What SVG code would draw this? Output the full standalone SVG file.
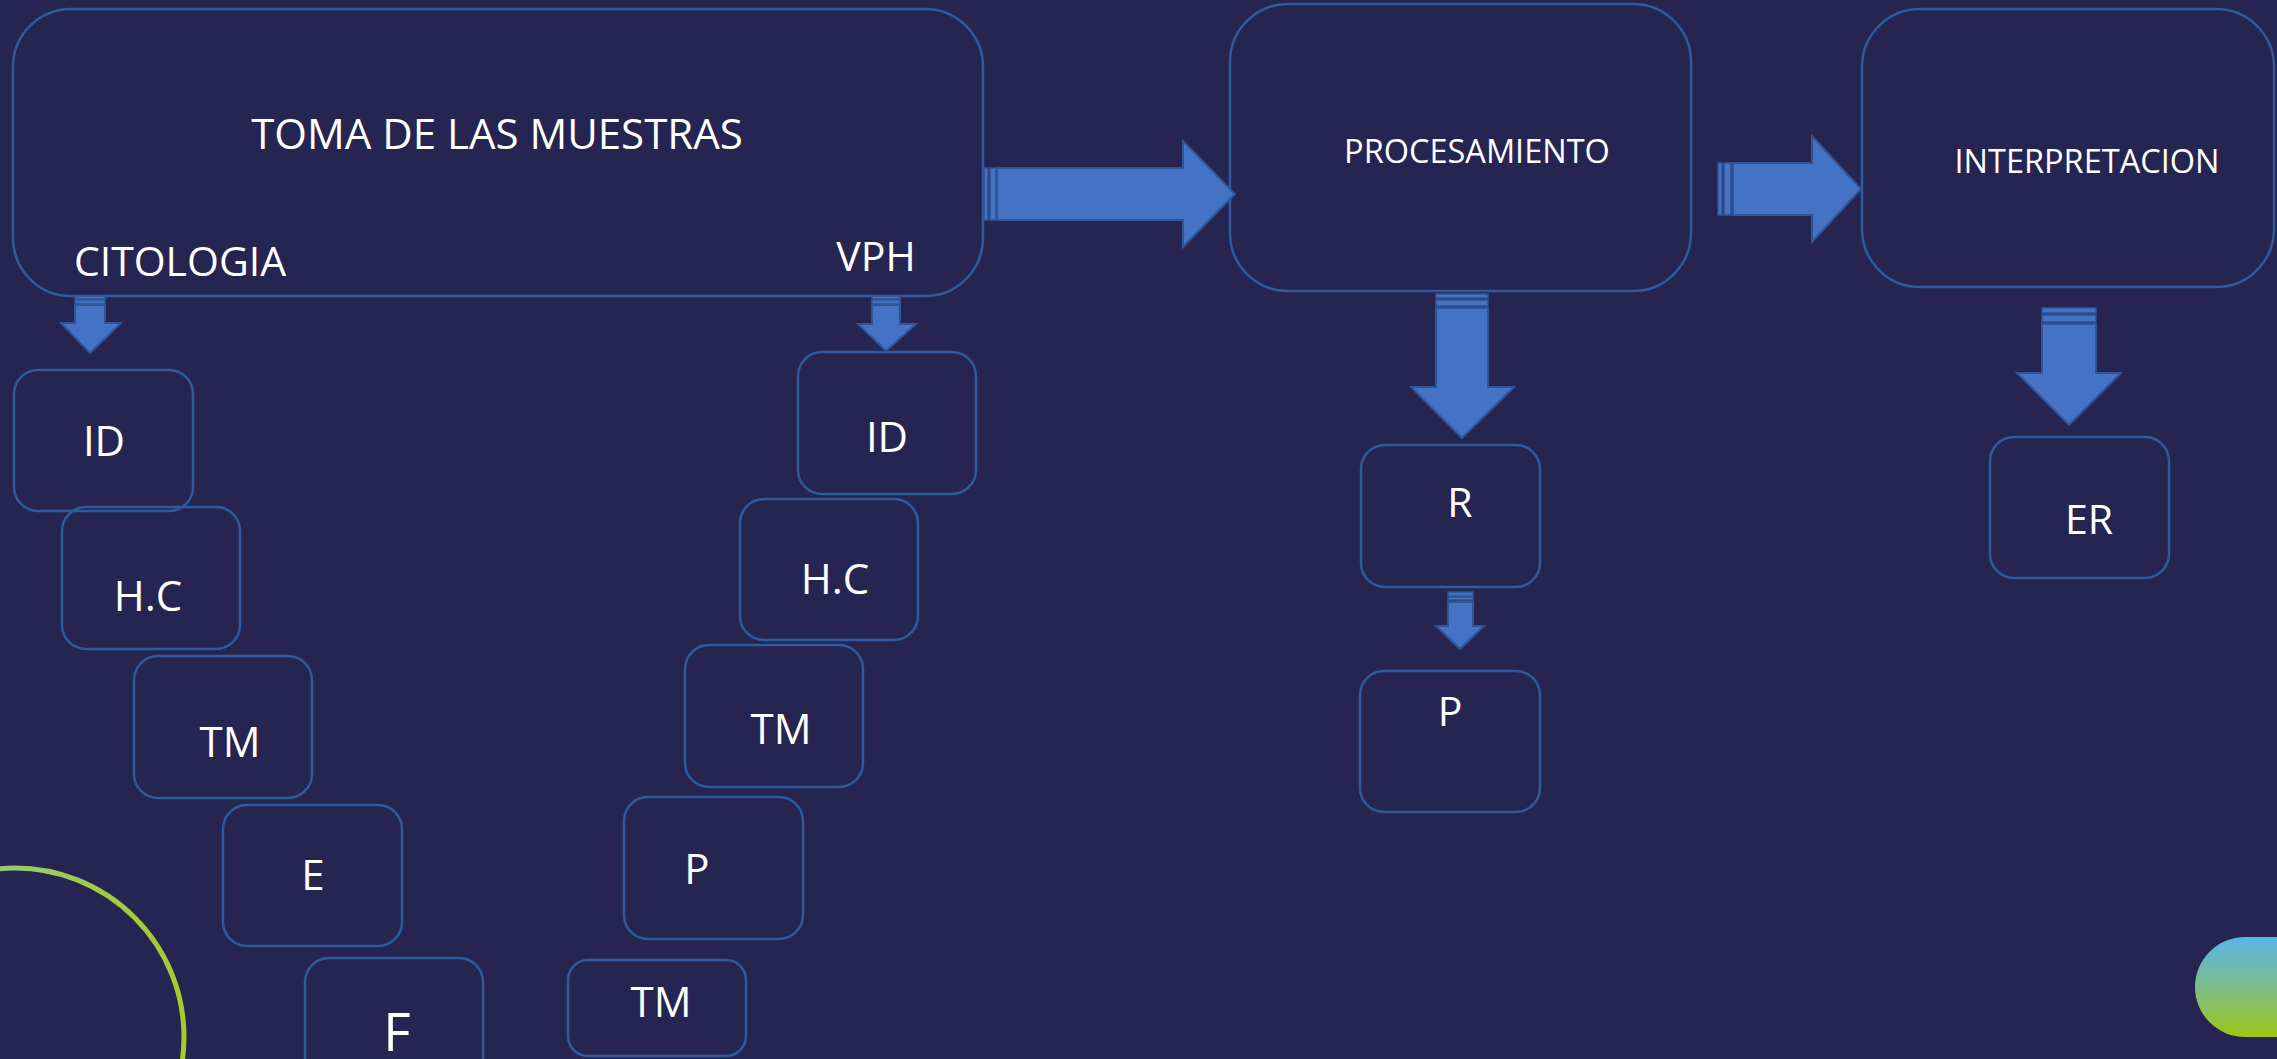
<svg xmlns="http://www.w3.org/2000/svg" width="2277" height="1059" viewBox="0 0 2277 1059">
<defs>
<style>
.box{fill:none;stroke:#2F5A9C;stroke-width:2.5}
.t{fill:#FFFFFF;font-family:"Open Sans","Liberation Sans",sans-serif;text-anchor:middle}
.arr{fill:#4472C4;stroke:#2F5597;stroke-width:2}
.bar{fill:#4472C4;stroke:#2F5597;stroke-width:1.5}
</style>
<linearGradient id="ring" x1="0" y1="0" x2="1" y2="1">
<stop offset="0" stop-color="#8FC6B0"/>
<stop offset="0.45" stop-color="#A3CB3A"/>
<stop offset="1" stop-color="#A8CC1E"/>
</linearGradient>
<linearGradient id="pill" x1="0" y1="0" x2="0" y2="1">
<stop offset="0" stop-color="#5AB6E6"/>
<stop offset="0.5" stop-color="#7EBB8A"/>
<stop offset="1" stop-color="#9EC614"/>
</linearGradient>
</defs>
<rect x="0" y="0" width="2277" height="1059" fill="#262451"/>

<circle cx="15" cy="1037" r="169" fill="none" stroke="url(#ring)" stroke-width="5"/>
<rect x="2195" y="937" width="130" height="100" rx="50" fill="url(#pill)"/>

<g id="toma">
<rect class="box" x="13" y="9" width="970" height="287" rx="58"/>
<text class="t" x="497" y="149" font-size="42">TOMA DE LAS MUESTRAS</text>
<text class="t" x="180" y="276" font-size="41">CITOLOGIA</text>
<text class="t" x="876" y="271" font-size="41">VPH</text>
</g>
<g id="procesamiento">
<rect class="box" x="1230" y="4" width="461" height="287" rx="58"/>
<text class="t" x="1477" y="163" font-size="32.5">PROCESAMIENTO</text>
</g>
<g id="interpretacion">
<rect class="box" x="1862" y="9" width="412" height="278" rx="58"/>
<text class="t" x="2087" y="173" font-size="32.5">INTERPRETACION</text>
</g>

<g id="cit-id"><rect class="box" x="14" y="370" width="179" height="141" rx="24"/><text class="t" x="104" y="456" font-size="42">ID</text></g>
<g id="cit-hc"><rect class="box" x="62" y="507" width="178" height="142" rx="24"/><text class="t" x="148" y="611" font-size="42">H.C</text></g>
<g id="cit-tm"><rect class="box" x="134" y="656" width="178" height="142" rx="24"/><text class="t" x="230" y="757" font-size="42">TM</text></g>
<g id="cit-e"><rect class="box" x="223" y="805" width="179" height="141" rx="24"/><text class="t" x="313" y="890" font-size="42">E</text></g>
<g id="cit-f"><rect class="box" x="305" y="958" width="178" height="130" rx="24"/><text class="t" x="397" y="1051" font-size="53">F</text></g>

<g id="vph-id"><rect class="box" x="798" y="352" width="178" height="142" rx="24"/><text class="t" x="887" y="452" font-size="42">ID</text></g>
<g id="vph-hc"><rect class="box" x="740" y="499" width="178" height="141" rx="24"/><text class="t" x="835" y="594" font-size="42">H.C</text></g>
<g id="vph-tm"><rect class="box" x="685" y="645" width="178" height="142" rx="24"/><text class="t" x="781" y="744" font-size="42">TM</text></g>
<g id="vph-p"><rect class="box" x="624" y="797" width="179" height="142" rx="24"/><text class="t" x="697" y="884" font-size="42">P</text></g>
<g id="vph-tm2"><rect class="box" x="568" y="960" width="178" height="96" rx="20"/><text class="t" x="661" y="1017" font-size="42">TM</text></g>

<g id="proc-r"><rect class="box" x="1361" y="445" width="179" height="142" rx="24"/><text class="t" x="1460" y="517" font-size="41">R</text></g>
<g id="proc-p"><rect class="box" x="1360" y="671" width="180" height="141" rx="24"/><text class="t" x="1450" y="726" font-size="41">P</text></g>
<g id="interp-er"><rect class="box" x="1990" y="437" width="179" height="141" rx="24"/><text class="t" x="2089" y="534" font-size="41">ER</text></g>

<g id="connectors">
<rect class="bar" x="984" y="168" width="4" height="52"/>
<rect class="bar" x="990" y="168" width="6" height="52"/>
<path class="arr" d="M997,168 H1183 V141 L1235,194 L1183,247 V220 H997 Z"/>

<rect class="bar" x="1718" y="163" width="4" height="52"/>
<rect class="bar" x="1724" y="163" width="7" height="52"/>
<path class="arr" d="M1733,163 H1812 V136 L1861,189 L1812,242 V215 H1733 Z"/>

<rect class="bar" x="75" y="296" width="30" height="3"/>
<rect class="bar" x="75" y="300" width="30" height="4"/>
<path class="arr" d="M75,305 H105 V323 H121 L90,353 L61,323 H75 Z"/>

<rect class="bar" x="872" y="296" width="28" height="3"/>
<rect class="bar" x="872" y="300" width="28" height="4"/>
<path class="arr" d="M872,305 H900 V324 H916 L886,351 L858,324 H872 Z"/>

<rect class="bar" x="1436" y="294" width="52" height="4"/>
<rect class="bar" x="1436" y="300" width="52" height="6"/>
<path class="arr" d="M1436,308 H1488 V387 H1514 L1462,438 L1411,387 H1436 Z"/>

<rect class="bar" x="2042" y="308" width="54" height="5"/>
<rect class="bar" x="2042" y="315" width="54" height="7"/>
<path class="arr" d="M2042,324 H2096 V373 H2121 L2069,425 L2017,373 H2042 Z"/>

<rect class="bar" x="1448" y="592" width="25" height="4"/>
<rect class="bar" x="1448" y="597" width="25" height="3"/>
<path class="arr" d="M1448,602 H1473 V626 H1484 L1460,649 L1436,626 H1448 Z"/>
</g>
</svg>
